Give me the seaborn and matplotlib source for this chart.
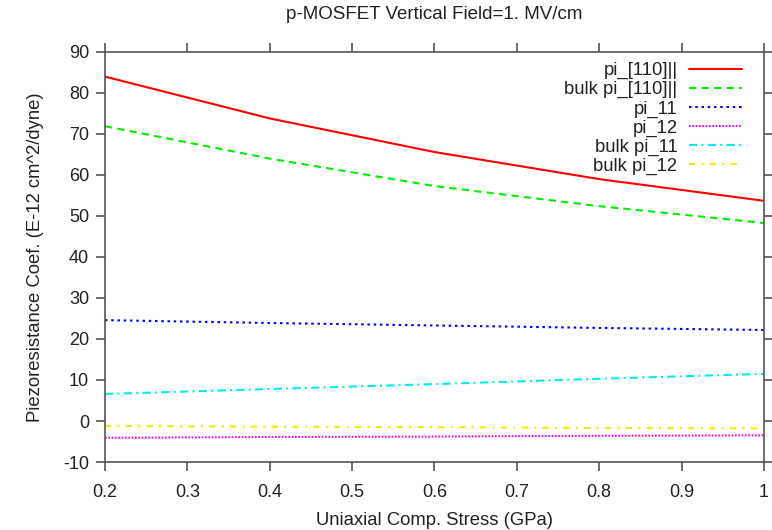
import matplotlib
matplotlib.use("Agg")
import matplotlib.pyplot as plt
import seaborn as sns
import pandas as pd

# Uniaxial compressive stress (GPa)
stress = [0.2, 0.4, 0.6, 0.8, 1.0]

# Piezoresistance coefficients (E-12 cm^2/dyne)
pi_110_par = [84.0, 73.8, 65.6, 59.0, 53.7]
bulk_pi_110_par = [71.9, 64.0, 57.3, 52.4, 48.3]
pi_11 = [24.6, 23.9, 23.3, 22.7, 22.2]
pi_12 = [-4.1, -3.9, -3.8, -3.6, -3.5]
bulk_pi_11 = [6.6, 7.8, 9.0, 10.3, 11.5]
bulk_pi_12 = [-1.2, -1.4, -1.5, -1.7, -1.8]

series = [
    ("pi_[110]||", pi_110_par, "#ff0000", "-"),
    ("bulk pi_[110]||", bulk_pi_110_par, "#00ee00", (0, (3.5, 2.5))),
    ("pi_11", pi_11, "#0000ff", (0, (1.2, 1.8))),
    ("pi_12", pi_12, "#ff00ff", (0, (0.8, 0.8))),
    ("bulk pi_11", bulk_pi_11, "#00eeee", (0, (4, 2, 1, 2))),
    ("bulk pi_12", bulk_pi_12, "#eeee00", (0, (3, 3, 1, 3))),
]

frames = []
for name, vals, _, _ in series:
    frames.append(pd.DataFrame({"stress": stress, "coef": vals, "series": name}))
df = pd.concat(frames, ignore_index=True)

sns.set_style("white")
plt.rcParams["font.family"] = ["Liberation Sans", "DejaVu Sans"]
plt.rcParams["axes.unicode_minus"] = False

fig = plt.figure(figsize=(7.72, 5.30), dpi=100)
ax = fig.add_axes([0.1360, 0.1283, 0.8536, 0.7736])

for name, _, color, ls in series:
    sub = df[df["series"] == name]
    sns.lineplot(data=sub, x="stress", y="coef", ax=ax, color=color,
                 linestyle=ls, linewidth=1.5, label=name)

ax.set_xlim(0.2, 1.0)
ax.set_ylim(-10, 90)
ax.set_xticks([0.2, 0.3, 0.4, 0.5, 0.6, 0.7, 0.8, 0.9, 1.0])
ax.set_xticklabels(["0.2", "0.3", "0.4", "0.5", "0.6", "0.7", "0.8", "0.9", "1"])
ax.set_yticks(range(-10, 91, 10))

ax.tick_params(direction="out", length=6.5, width=1.1, colors="#444444",
               labelcolor="#222222", labelsize=13, top=True, right=True,
               bottom=True, left=True)
ax.tick_params(axis="x", pad=9)
ax.tick_params(axis="y", pad=5)
ax.tick_params(top=True, right=True, labeltop=False, labelright=False)
for sp in ax.spines.values():
    sp.set_color("#555555")
    sp.set_linewidth(1.2)

ax.set_xlabel("Uniaxial Comp. Stress (GPa)", fontsize=13.3, color="#222222", labelpad=8)
ax.set_ylabel("Piezoresistance Coef. (E-12 cm^2/dyne)", fontsize=13.3, color="#222222", labelpad=14)
ax.set_title("p-MOSFET Vertical Field=1. MV/cm", fontsize=13.5, color="#222222", pad=24)

leg = ax.legend(loc="upper right", bbox_to_anchor=(0.978, 0.993),
                markerfirst=False, frameon=False, borderaxespad=0,
                fontsize=13.3, handlelength=2.9, labelspacing=0.1,
                handletextpad=0.6)
for t in leg.get_texts():
    t.set_color("#222222")

fig.savefig("out.png", dpi=100)
